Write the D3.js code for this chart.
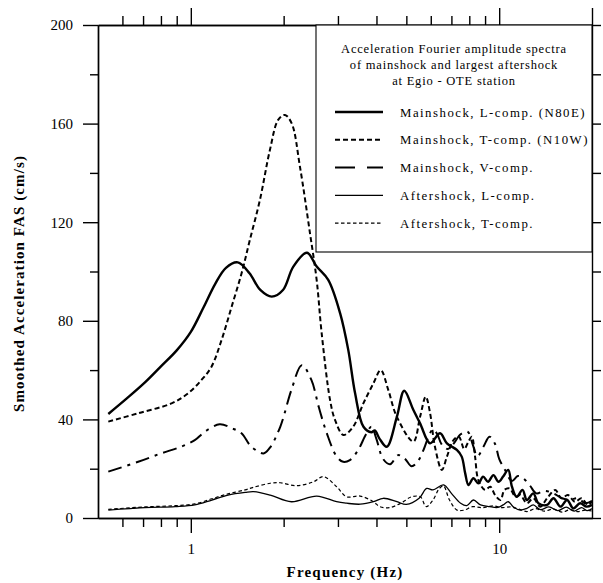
<!DOCTYPE html>
<html>
<head>
<meta charset="utf-8">
<script src="https://cdn.jsdelivr.net/npm/d3@7"></script>
<style>
  body { margin: 0; background: #fff; }
  text { font-family: "Liberation Serif", "Times New Roman", serif; fill: #000; }
</style>
</head>
<body>
<div id="chart"></div>
<script>
// frequency (Hz) / amplitude (cm/s) pairs
const mainLFreq = [0.54, 0.62, 0.71, 0.80, 0.90, 1.0, 1.1, 1.2, 1.3, 1.42, 1.55, 1.68, 1.83, 1.99, 2.15, 2.38, 2.56, 2.79, 3.05, 3.24, 3.41, 3.63, 3.85, 3.95, 4.1, 4.32, 4.66, 4.92, 5.27, 5.54, 5.97, 6.43, 6.77, 7.29, 7.56, 7.76, 7.95, 8.25, 8.56, 8.87, 9.2, 9.58, 9.95, 10.3, 10.7, 11.0, 11.4, 11.9, 12.3, 12.9, 13.4, 14.3, 15.0, 15.8, 16.6, 17.4, 18.3, 19.2, 20];
const mainLAmp = [42.2, 48.5, 55, 61.5, 68, 75.5, 85.5, 95, 101.5, 103.7, 99.3, 92.5, 89.8, 92.5, 102, 107.6, 102, 96.6, 83, 68.2, 50.6, 37, 34.8, 35.5, 32, 28.9, 41.1, 51.6, 43.8, 38.4, 30.3, 34.4, 30.3, 27.6, 24.9, 18.1, 13.4, 16.1, 14.1, 16.8, 14.7, 17.4, 14.7, 16.8, 19.5, 12.7, 8.6, 11.4, 7.3, 10, 6, 5.3, 8, 4.6, 7.3, 3.9, 6, 4.6, 5.3];

const mainTFreq = [0.54, 0.675, 0.866, 0.98, 1.083, 1.167, 1.258, 1.356, 1.461, 1.554, 1.675, 1.805, 1.92, 2.02, 2.124, 2.259, 2.435, 2.559, 2.657, 2.828, 2.935, 3.124, 3.36, 3.627, 3.91, 4.13, 4.37, 4.655, 5.27, 5.54, 5.78, 5.97, 6.19, 6.52, 6.77, 7.11, 7.4, 7.7, 7.95, 8.15, 8.35, 8.56, 9.0, 9.36, 9.7, 10.1, 10.4, 10.8, 11.3, 11.7, 12.3, 12.9, 13.6, 14.3, 15.2, 15.9, 16.7, 17.6, 18.5, 19.4, 20];
const mainTAmp = [39.1, 42.5, 46.5, 50.6, 56, 61.4, 72.2, 85.7, 99.3, 112.8, 129, 149.3, 161.5, 163.5, 160.1, 142.5, 115.5, 96.6, 74.9, 47.9, 39.8, 33.7, 37, 46.5, 54.6, 60, 51.9, 41.1, 31, 41.1, 49.2, 42.5, 28.9, 19.5, 24.9, 31.6, 33, 28, 31, 33, 25, 15.4, 11.4, 12.7, 9.3, 7.3, 11.4, 12, 8.6, 9.3, 6, 8, 4.6, 8, 11.4, 8, 9.3, 6.6, 8, 5.3, 6.6];

const mainVFreq = [0.54, 0.675, 0.80, 0.93, 1.03, 1.11, 1.24, 1.36, 1.46, 1.57, 1.72, 1.80, 1.95, 2.12, 2.29, 2.46, 2.6, 2.76, 2.97, 3.12, 3.28, 3.49, 3.7, 3.85, 4.0, 4.2, 4.43, 4.7, 4.95, 5.2, 5.45, 5.7, 5.9, 6.1, 6.3, 6.5, 6.8, 7.1, 7.5, 7.9, 8.2, 8.5, 8.9, 9.3, 9.7, 10.0, 10.5, 11.0, 11.5, 12.0, 12.6, 13.2, 14, 15, 16, 17, 18, 19, 20];
const mainVAmp = [18.8, 22.8, 26.2, 28.9, 31.6, 35, 38, 36.4, 34.4, 29, 26.2, 28.3, 37, 52, 62, 56, 45, 34.4, 25, 22.8, 23.5, 27.6, 34, 37, 32, 24, 21.8, 25.5, 24, 21, 23, 28, 33, 36, 34, 30, 28, 30, 34, 35, 30, 25, 29, 33, 30, 24, 19, 15, 17, 16, 13, 10, 11, 10, 8, 7.5, 8, 6, 7];

const afterLFreq = [0.54, 0.71, 0.89, 1.03, 1.17, 1.32, 1.50, 1.60, 1.81, 2.12, 2.56, 2.97, 3.2, 3.54, 3.91, 4.21, 4.66, 5.0, 5.5, 5.82, 6.1, 6.6, 7.0, 7.5, 7.85, 8.25, 8.7, 9.3, 9.9, 10.3, 10.7, 11.1, 11.7, 12.3, 12.9, 13.6, 14.5, 15.5, 16.5, 17.5, 18.5, 19.3, 20];
const afterLAmp = [3.2, 4.2, 4.6, 5.3, 7.3, 9.3, 10.4, 10.7, 9.3, 6.6, 8.9, 6.6, 6, 5.6, 6.6, 8, 6.6, 5.5, 8, 12, 11.4, 13.4, 10, 6, 5, 7.3, 5.3, 4.6, 4.3, 5.3, 6.6, 4.6, 3.2, 3.9, 5.3, 3.4, 4.5, 3, 4.4, 2.8, 4.2, 3, 3.8];

const afterTFreq = [0.54, 0.71, 0.89, 1.03, 1.17, 1.32, 1.50, 1.60, 1.81, 1.95, 2.2, 2.5, 2.69, 2.97, 3.2, 3.54, 3.91, 4.1, 4.4, 4.8, 5.2, 5.55, 5.8, 6.1, 6.4, 6.6, 6.9, 7.3, 7.7, 8.2, 8.8, 9.6, 10.2, 10.9, 11.6, 12.3, 13.1, 14, 15, 16, 17, 18, 19, 20];
const afterTAmp = [3.5, 4.5, 5.0, 5.7, 7.8, 9.8, 11.4, 12.5, 14.1, 14.3, 13.1, 14.7, 16.8, 12.7, 8.6, 8.9, 6.6, 4.6, 4.2, 6, 8.6, 8.6, 4.6, 7.3, 12, 13, 7.3, 3.2, 3.2, 4.6, 4.2, 4.9, 4.2, 4.5, 3.6, 2.6, 3.8, 2.8, 3.6, 2.4, 3.4, 2.6, 3.2, 2.8];

const yMajor = [0, 40, 80, 120, 160, 200];
const yMinor = [20, 60, 100, 140, 180];
const xMajor = [1, 10];
const xMinor = [0.6, 0.7, 0.8, 0.9, 2, 3, 4, 5, 6, 7, 8, 9];

const legendTitle = ["Acceleration Fourier amplitude spectra", "of mainshock and largest aftershock", "at Egio - OTE station"];

const series = [
  { name: "Mainshock, L-comp. (N80E)", f: mainLFreq, a: mainLAmp, w: 2.4, dash: null, keyDash: null },
  { name: "Mainshock, T-comp. (N10W)", f: mainTFreq, a: mainTAmp, w: 2, dash: "5,3", keyDash: "5,3" },
  { name: "Mainshock, V-comp.", f: mainVFreq, a: mainVAmp, w: 2, dash: "14,6,3,6", keyDash: "20,12" },
  { name: "Aftershock, L-comp.", f: afterLFreq, a: afterLAmp, w: 1.3, dash: null, keyDash: null },
  { name: "Aftershock, T-comp.", f: afterTFreq, a: afterTAmp, w: 1.2, dash: "3.5,2.5", keyDash: "3.5,2.5" },
];

const W = 603, H = 583;
const plot = { left: 98, right: 592, top: 25, bottom: 518 };

const svg = d3.select("#chart").append("svg")
  .attr("width", W).attr("height", H);

const x = d3.scaleLog().domain([0.5, 20]).range([plot.left, plot.right]);
const y = d3.scaleLinear().domain([0, 200]).range([plot.bottom, plot.top]);

function styleAxis(g) {
  g.selectAll("path, line").attr("stroke", "#000").attr("stroke-width", 1.4);
  g.selectAll("text").style("font-size", "15px").attr("fill", "#000");
}

// left axis
svg.append("g").attr("transform", `translate(${plot.left},0)`)
  .call(d3.axisLeft(y).tickValues(yMajor).tickSize(15).tickSizeOuter(0).tickPadding(10))
  .call(styleAxis)
  .call(g => g.selectAll("text").style("font-family", "Liberation Serif, serif"));
svg.append("g").attr("transform", `translate(${plot.left},0)`)
  .call(d3.axisLeft(y).tickValues(yMinor).tickSize(8).tickFormat("").tickSizeOuter(0))
  .call(styleAxis);

// right axis
svg.append("g").attr("transform", `translate(${plot.right},0)`)
  .call(d3.axisRight(y).tickValues(yMajor.concat(yMinor)).tickSize(9).tickFormat("").tickSizeOuter(0))
  .call(styleAxis);

// bottom axis
svg.append("g").attr("transform", `translate(0,${plot.bottom})`)
  .call(d3.axisBottom(x).tickValues(xMajor).tickSize(15).tickFormat(d3.format("d")).tickSizeOuter(0).tickPadding(10))
  .call(styleAxis);
svg.append("g").attr("transform", `translate(0,${plot.bottom})`)
  .call(d3.axisBottom(x).tickValues(xMinor).tickSize(9).tickFormat("").tickSizeOuter(0))
  .call(styleAxis);

// top axis
svg.append("g").attr("transform", `translate(0,${plot.top})`)
  .call(d3.axisTop(x).tickValues(xMajor.concat([20])).tickSize(17).tickFormat("").tickSizeOuter(0))
  .call(styleAxis);
svg.append("g").attr("transform", `translate(0,${plot.top})`)
  .call(d3.axisTop(x).tickValues(xMinor).tickSize(9).tickFormat("").tickSizeOuter(0))
  .call(styleAxis);

// curves
const line = d3.line()
  .x(d => x(d[0]))
  .y(d => y(d[1]))
  .curve(d3.curveCatmullRom.alpha(0.5));

svg.append("g").selectAll("path.curve")
  .data(series)
  .enter().append("path")
  .attr("class", "curve")
  .attr("d", s => line(s.f.map((f, i) => [f, s.a[i]])))
  .attr("fill", "none")
  .attr("stroke", "#000")
  .attr("stroke-width", s => s.w)
  .attr("stroke-dasharray", s => s.dash);

// legend box
const lg = svg.append("g");
lg.append("rect")
  .attr("x", 316).attr("y", plot.top)
  .attr("width", plot.right - 316).attr("height", 227)
  .attr("fill", "#fff").attr("stroke", "#000").attr("stroke-width", 1.1);

lg.selectAll("text.title")
  .data(legendTitle)
  .enter().append("text")
  .attr("class", "title")
  .attr("x", 454)
  .attr("y", (d, i) => 53 + i * 16)
  .attr("text-anchor", "middle")
  .style("font-size", "12.5px")
  .style("letter-spacing", "0.8px")
  .text(d => d);

const entry = lg.selectAll("g.entry")
  .data(series)
  .enter().append("g")
  .attr("class", "entry")
  .attr("transform", (d, i) => `translate(0,${112 + i * 27.8})`);

entry.append("line")
  .attr("x1", 335).attr("x2", 383)
  .attr("stroke", "#000")
  .attr("stroke-width", d => d.w)
  .attr("stroke-dasharray", d => d.keyDash);

entry.append("text")
  .attr("x", 400).attr("y", 4.5)
  .style("font-size", "12.8px")
  .style("letter-spacing", "1.5px")
  .text(d => d.name);

// axis titles
svg.append("text")
  .attr("transform", `translate(24,${(plot.top + plot.bottom) / 2 + 12}) rotate(-90)`)
  .attr("text-anchor", "middle")
  .style("font-size", "15px")
  .style("font-weight", "bold")
  .style("letter-spacing", "1.1px")
  .text("Smoothed Acceleration FAS (cm/s)");

svg.append("text")
  .attr("x", 345).attr("y", 577)
  .attr("text-anchor", "middle")
  .style("font-size", "15px")
  .style("font-weight", "bold")
  .style("letter-spacing", "1.2px")
  .text("Frequency (Hz)");
</script>
</body>
</html>
